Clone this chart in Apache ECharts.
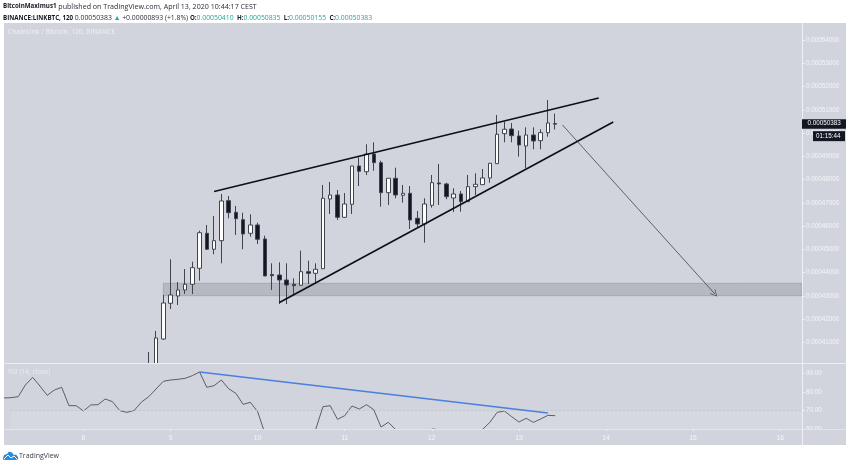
<!DOCTYPE html>
<html>
<head>
<meta charset="utf-8">
<style>
  html, body { margin: 0; padding: 0; background: #fff; }
  #chart { width: 850px; height: 466px; }
</style>
<script src="https://cdn.jsdelivr.net/npm/echarts@6/dist/echarts.min.js"></script>
</head>
<body>
<div id="chart"></div>
<script>
// prices are in satoshi (1e-8 BTC), one slot = 2h candle
const slotCount = 111;
const dayTicks = [11, 23, 35, 47, 59, 71, 83, 95, 107];
const dayNames = ['8', '9', '10', '11', '12', '13', '14', '15', '16'];
const firstCandle = 20;

const opens = [40000, 40050, 41152, 42686, 43000, 43258, 43503, 44190, 45694, 45007, 45376, 47095, 46597, 46279, 45694, 46051, 45449, 43924, 43902, 43687, 43503, 43460, 44044, 43975, 44173, 47168, 47340, 46381, 46940, 48586, 48341, 49102, 48728, 47439, 48057, 47327, 47413, 46338, 46094, 46897, 47856, 47813, 47211, 47383, 47052, 47697, 47783, 48070, 48685, 49974, 50176, 49875, 49445, 49918, 49673, 50017, 50410];
const closes = [40050, 41195, 42699, 43043, 43258, 43503, 44216, 45720, 45007, 45376, 47082, 46579, 46321, 45664, 46051, 45436, 43859, 43872, 43687, 43473, 43443, 44044, 43975, 44147, 47198, 47340, 46381, 46953, 48586, 48358, 49102, 48728, 47439, 48057, 47340, 47413, 46266, 46094, 46953, 47868, 47813, 47267, 47383, 47052, 47697, 47800, 48070, 48702, 49948, 50163, 49888, 49488, 49918, 49660, 50017, 50434, 50383];
const lows = [40000, 40000, 41109, 42441, 42613, 43086, 43086, 43657, 44977, 44792, 44405, 46339, 45621, 45007, 45548, 45234, 43859, 43258, 42656, 42656, 43043, 43430, 43516, 43545, 44160, 46523, 46266, 46352, 46523, 47727, 48199, 48384, 46837, 46910, 47198, 47009, 45879, 45952, 45290, 46794, 46910, 47155, 46609, 46622, 47052, 47340, 47783, 47868, 48672, 49604, 49604, 48986, 48487, 49304, 49304, 49845, 50155];
const highs = [40594, 41496, 43043, 44577, 43601, 44160, 44474, 45806, 46051, 46437, 47383, 47297, 46867, 46579, 46510, 46149, 45591, 44405, 44448, 44405, 43760, 44946, 44517, 44405, 47770, 47899, 47555, 47426, 48586, 48960, 49518, 49604, 48814, 48057, 48513, 47770, 47727, 46652, 47198, 48199, 48672, 47868, 47628, 47512, 48199, 48272, 48457, 48702, 50778, 50490, 50434, 50103, 50249, 50249, 50163, 51422, 50835];

const rsiValues = [76.86, 77.04, 77.58, 83.89, 88.03, 83.35, 78.3, 81.18, 82.63, 72.72, 72.72, 69.83, 73.08, 73.26, 76.32, 74.88, 70.01, 69.11, 70.19, 74.7, 77.58, 81.72, 85.87, 86.59, 86.95, 87.49, 88.93, 90.91, 82.63, 83.53, 86.59, 81.9, 79.38, 73.44, 74.52, 69.47, 57.8, 52, 50, 49, 49, 53, 54, 59.92, 72.17, 72.72, 65.33, 67.31, 72.54, 70.91, 73.26, 70.55, 61.18, 63.71, 59.92, 56, 51, 50, 55, 60.1, 59.74, 57, 57, 55, 58, 59, 59.92, 63.71, 69.11, 69.83, 66.77, 63.89, 65.87, 63.71, 65.51, 67.49, 67.31];

const priceTicks = [41000, 42000, 43000, 44000, 45000, 46000, 47000, 48000, 49000, 50000, 51000, 52000, 53000, 54000];
const rsiTicks = [60, 70, 80, 90];
const lastClose = 50383;

const categories = [];
for (let i = 0; i < slotCount; i++) {
  const at = dayTicks.indexOf(i);
  categories.push(at >= 0 ? dayNames[at] : '');
}
const candles = opens.map((o, k) => [firstCandle + k, o, closes[k], lows[k], highs[k]]);

const PANE = '#d1d4dc';
const INK = '#131722';
const LABEL = '#f4f5f7';
const FONT = '"Open Sans", sans-serif';
const AXIS_FONT = '"Liberation Sans", sans-serif';

const isDay = (i) => dayTicks.indexOf(i) >= 0;
const priceLabel = (v) => (v / 1e8).toFixed(8);

const chart = echarts.init(document.getElementById('chart'), null, { renderer: 'canvas' });

const baseGraphic = [
  { type: 'rect', z: -1, silent: true, shape: { x: 4, y: 23, width: 842, height: 422 }, style: { fill: PANE } },
  // main pane is clipped at the RSI separator, price scale starts a bit lower
  { type: 'rect', z: 5, silent: true, shape: { x: 4, y: 363, width: 842, height: 4 }, style: { fill: PANE } },
  { type: 'rect', z: 5, silent: true, shape: { x: 0, y: 23, width: 4, height: 422 }, style: { fill: '#fff' } },
  { type: 'rect', z: 10, silent: true, shape: { x: 803, y: 430, width: 43, height: 15 }, style: { fill: PANE } },
  { type: 'line', z: 11, silent: true, shape: { x1: 4, y1: 363.5, x2: 846, y2: 363.5 }, style: { stroke: '#eceef2', lineWidth: 1 } },
  { type: 'line', z: 11, silent: true, shape: { x1: 4, y1: 429.5, x2: 846, y2: 429.5 }, style: { stroke: '#e2e4e9', lineWidth: 1 } },
  { type: 'line', z: 11, silent: true, shape: { x1: 802.5, y1: 23, x2: 802.5, y2: 445 }, style: { stroke: '#eef0f3', lineWidth: 1 } },
  { type: 'text', z: 12, silent: true, x: 8, y: 29, style: { text: 'ChainLink / Bitcoin, 120, BINANCE', fill: '#e9ebee', font: '600 6.6px ' + FONT } },
  { type: 'text', z: 12, silent: true, x: 8, y: 369, style: { text: 'RSI (14, close)', fill: '#e9ebee', font: '6.7px ' + FONT } },
  {
    type: 'text', z: 12, silent: true, x: 3, y: 3,
    style: {
      text: '{b|BitcoinMaximus1}{n| published on TradingView.com, April 13, 2020 10:44:17 CEST}',
      rich: {
        b: { font: '700 6.2px ' + FONT, fill: INK },
        n: { font: '7.1px ' + FONT, fill: '#2a2e39' }
      }
    }
  },
  {
    type: 'text', z: 12, silent: true, x: 3, y: 12,
    style: {
      text: '{b|BINANCE:LINKBTC, 120}{n| 0.00050383 }{t|▲}{n| +0.00000893 (+1.8%) }{b|O:}{t|0.00050410} {b|H:}{t|0.00050835} {b|L:}{t|0.00050155} {b|C:}{t|0.00050383}',
      rich: {
        b: { font: '700 6.2px ' + FONT, fill: INK },
        n: { font: '6.85px ' + FONT, fill: '#2a2e39' },
        t: { font: '6.85px ' + FONT, fill: '#26a69a' }
      }
    }
  },
  // TradingView mark
  {
    type: 'polygon', z: 12, silent: true,
    shape: { points: [[3, 458], [4, 455], [7, 454], [9, 451.5], [12, 452.5], [14, 455], [16, 454.5], [18, 457], [18, 459], [16, 460], [5, 460], [3, 459.5]] },
    style: { fill: '#2a8bd6' }
  },
  { type: 'polyline', z: 13, silent: true, shape: { points: [[4, 459], [8, 455], [11, 458], [14, 456], [17, 459]] }, style: { stroke: '#fff', fill: null, lineWidth: 1 } },
  { type: 'text', z: 12, silent: true, x: 19, y: 452, style: { text: 'TradingView', fill: '#3a3e49', font: '7px ' + FONT } }
];

chart.setOption({
  animation: false,
  backgroundColor: '#fff',
  graphic: baseGraphic,
  grid: [
    { left: -2.5, top: 16.7, width: 808.08, height: 349.1 },
    { left: -2.5, top: 364, width: 808.08, height: 65.2 }
  ],
  xAxis: [
    {
      type: 'category', gridIndex: 0, data: categories, boundaryGap: true,
      axisLine: { show: false }, axisTick: { show: false }, axisLabel: { show: false }, splitLine: { show: false }
    },
    {
      type: 'category', gridIndex: 1, data: categories, boundaryGap: true, z: 12,
      axisLine: { show: false },
      axisTick: { show: true, alignWithLabel: true, length: 1.5, interval: isDay, lineStyle: { color: '#f4f5f7' } },
      axisLabel: { show: true, interval: isDay, color: LABEL, fontSize: 6.8, fontFamily: AXIS_FONT, margin: 5 },
      splitLine: { show: false }
    }
  ],
  yAxis: [
    {
      type: 'value', gridIndex: 0, position: 'right', offset: -3.1, min: 40000, max: 55000, interval: 1000,
      axisLine: { show: false },
      axisTick: { show: true, length: 2, customValues: priceTicks, lineStyle: { color: '#f4f5f7' } },
      axisLabel: { show: true, customValues: priceTicks, formatter: priceLabel, color: LABEL, fontSize: 6.3, fontFamily: AXIS_FONT, margin: 3.5 },
      splitLine: { show: false }
    },
    {
      type: 'value', gridIndex: 1, position: 'right', offset: -3.1, min: 60, max: 95.24, interval: 10,
      axisLine: { show: false },
      axisTick: { show: true, length: 2, customValues: rsiTicks, lineStyle: { color: '#f4f5f7' } },
      axisLabel: { show: true, customValues: rsiTicks, formatter: (v) => v.toFixed(2), color: LABEL, fontSize: 6.3, fontFamily: AXIS_FONT, margin: 3.5 },
      splitLine: { show: false }
    }
  ],
  series: [
    {
      type: 'candlestick', xAxisIndex: 0, yAxisIndex: 0, data: candles, barWidth: 4, clip: true, silent: true,
      encode: { x: 0, y: [1, 2, 3, 4] },
      itemStyle: { color: '#ffffff', color0: INK, borderColor: '#41444d', borderColor0: '#41444d', borderWidth: 1 },
      markArea: {
        silent: true,
        itemStyle: { color: 'rgba(120,123,134,0.3)', borderColor: 'rgba(120,123,134,0.35)', borderWidth: 1 },
        data: [[{ coord: [22, 43546] }, { coord: [110, 43012] }]]
      },
      markLine: {
        silent: true, symbol: 'none', label: { show: false }, animation: false,
        data: [
          [{ coord: [29, 47490], lineStyle: { color: '#0d0f14', width: 1.6, type: 'solid' } }, { coord: [82, 51508] }],
          [{ coord: [38, 42721], lineStyle: { color: '#0d0f14', width: 1.6, type: 'solid' } }, { coord: [84, 50477] }],
          [
            { coord: [77, 50348], symbol: 'none', lineStyle: { color: '#40434c', width: 0.8, type: 'solid' } },
            { coord: [98, 43086], symbol: 'path://M-5 10L0 0L5 10L4 10L0 2L-4 10Z', symbolSize: 7 }
          ]
        ]
      }
    },
    {
      type: 'line', xAxisIndex: 1, yAxisIndex: 1, data: rsiValues, showSymbol: false, clip: true, silent: true,
      lineStyle: { color: '#5c5e66', width: 1 },
      markArea: {
        silent: true,
        itemStyle: { color: 'rgba(255,255,255,0.1)' },
        data: [[{ coord: [1, 70] }, { coord: [110, 60] }]]
      },
      markLine: {
        silent: true, symbol: 'none', label: { show: false }, animation: false,
        data: [
          [{ coord: [1, 70], lineStyle: { color: '#c4c6ce', width: 1, type: [2, 2] } }, { coord: [110, 70] }],
          [{ coord: [27, 90.91], lineStyle: { color: '#4a7fe0', width: 1.5, type: 'solid' } }, { coord: [75, 68.8] }]
        ]
      }
    }
  ]
});

// live price tag and bar countdown sit on the price scale
const tagY = chart.convertToPixel({ yAxisIndex: 0 }, lastClose);
chart.setOption({
  graphic: baseGraphic.concat([
    { type: 'rect', z: 14, silent: true, shape: { x: 802, y: tagY - 5, width: 44, height: 9.5 }, style: { fill: INK } },
    { type: 'text', z: 15, silent: true, x: 807.5, y: tagY - 3.7, style: { text: priceLabel(lastClose), fill: '#fff', font: '6.3px ' + AXIS_FONT } },
    { type: 'rect', z: 14, silent: true, shape: { x: 813, y: tagY + 7, width: 32, height: 10 }, style: { fill: INK } },
    { type: 'text', z: 15, silent: true, x: 816, y: tagY + 9, style: { text: '01:15:44', fill: '#fff', font: '6.3px ' + AXIS_FONT } }
  ])
});
</script>
</body>
</html>
